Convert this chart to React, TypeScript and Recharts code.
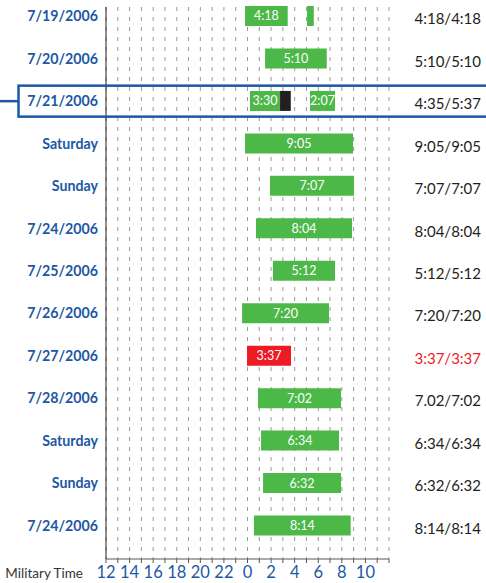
import React from 'react';
import { BarChart, Bar, XAxis, YAxis, CartesianGrid, Cell, LabelList } from 'recharts';

// rows of the time sheet, top to bottom
const rows = ['7/19/2006', '7/20/2006', '7/21/2006', 'Saturday', 'Sunday', '7/24/2006', '7/25/2006', '7/26/2006', '7/27/2006', '7/28/2006', 'Saturday', 'Sunday', '7/24/2006'];

// hours counted from 12:00 noon (0 = noon, 12 = midnight, 24 = next noon)
const shiftStart = [11.79, 13.49, 12.21, 11.79, 13.91, 12.72, 14.16, 11.54, 11.96, 12.89, 13.15, 13.32, 12.55];
const shiftEnd = [15.41, 18.72, 14.76, 20.95, 21.03, 20.87, 19.42, 18.91, 15.69, 19.93, 19.76, 19.93, 20.75];
const breakEnd = [15.41, 18.72, 15.67, 20.95, 21.03, 20.87, 19.42, 18.91, 15.69, 19.93, 19.76, 19.93, 20.75];
const secondStart = [17.05, null, 17.3, null, null, null, null, null, null, null, null, null, null];
const secondEnd = [17.62, null, 19.42, null, null, null, null, null, null, null, null, null, null];

const firstLabels = ['4:18', '5:10', '3:30', '9:05', '7:07', '8:04', '5:12', '7:20', '3:37', '7:02', '6:34', '6:32', '8:14'];
const secondLabels = ['', '', '2:07', '', '', '', '', '', '', '', '', '', ''];
const totals = ['4:18/4:18', '5:10/5:10', '4:35/5:37', '9:05/9:05', '7:07/7:07', '8:04/8:04', '5:12/5:12', '7:20/7:20', '3:37/3:37', '7.02/7:02', '6:34/6:34', '6:32/6:32', '8:14/8:14'];
const flagged = [false, false, false, false, false, false, false, false, true, false, false, false, false];
const highlighted = 2;

const hourTicks = Array.from({ length: 25 }, (_, i) => i);

const BLUE = '#1c58a5';
const GREEN = '#4cb848';
const RED = '#ed1c24';
const DARK = '#231f20';
const FONT = 'Lato, "Open Sans", sans-serif';

const data = rows.map((name, i) => {
    const s2 = secondStart[i];
    const e2 = secondEnd[i];
    return {
        idx: i,
        name,
        lead: shiftStart[i],
        work: shiftEnd[i] - shiftStart[i],
        pause: breakEnd[i] - shiftEnd[i],
        gap: s2 != null ? s2 - breakEnd[i] : 0,
        work2: s2 != null && e2 != null ? e2 - s2 : 0,
        labelA: firstLabels[i],
        labelB: secondLabels[i],
    };
});

const DateTick = ({ x, y, payload }: any) => {
    const i = payload.value;
    return (
        <g>
            {i === highlighted && (
                <g>
                    <line x1={0} y1={y} x2={18.5} y2={y} stroke={BLUE} strokeWidth={2.5} />
                    <rect x={18.5} y={y - 15.5} width={490} height={31} fill="none" stroke={BLUE} strokeWidth={2.5} />
                </g>
            )}
            <text x={x} y={y} dy={5} textAnchor="end" fill={BLUE} fontFamily={FONT} fontWeight={700} fontSize={14.2}>
                {rows[i]}
            </text>
        </g>
    );
};

const TotalTick = ({ x, y, payload }: any) => {
    const i = payload.value;
    return (
        <text x={x + 92} y={y} dy={8} textAnchor="end" fill={flagged[i] ? RED : DARK} fontFamily={FONT} fontSize={15}>
            {totals[i]}
        </text>
    );
};

const HourTick = ({ x, y, payload }: any) => {
    const v = payload.value;
    if (v % 2 !== 0 || v >= 24) return null;
    return (
        <text x={x} y={y} dy={13} textAnchor="middle" fill={BLUE} fontFamily={FONT} fontSize={16.5}>
            {(v + 12) % 24}
        </text>
    );
};

const MilitaryLabel = ({ viewBox }: any) => (
    <text x={viewBox.x - 23} y={viewBox.y + 19} textAnchor="end" fill="#333" fontFamily={FONT} fontSize={13.5}>
        Military Time
    </text>
);

export default function App() {
    return (
        <div style={{ position: 'absolute', left: 0, top: 0, width: 486, height: 583 }}>
            <BarChart
                width={486}
                height={583}
                data={data}
                layout="vertical"
                barSize={20}
                margin={{ top: 7, right: 0, left: 0, bottom: 0 }}
            >
                <CartesianGrid horizontal={false} stroke="#9a9a9a" strokeDasharray="4 6" />
                <XAxis
                    type="number"
                    domain={[0, 24]}
                    ticks={hourTicks}
                    interval={0}
                    height={24}
                    tickSize={4}
                    tickMargin={2}
                    stroke="#555"
                    tick={<HourTick />}
                    label={<MilitaryLabel />}
                />
                <YAxis
                    yAxisId="left"
                    type="category"
                    dataKey="idx"
                    width={106}
                    padding={{ top: -12, bottom: 12 }}
                    tickSize={0}
                    tickMargin={8}
                    interval={0}
                    stroke={DARK}
                    tick={<DateTick />}
                />
                <YAxis
                    yAxisId="right"
                    orientation="right"
                    type="category"
                    dataKey="idx"
                    width={97}
                    padding={{ top: -12, bottom: 12 }}
                    tickSize={0}
                    tickMargin={0}
                    interval={0}
                    axisLine={false}
                    tick={<TotalTick />}
                />
                <Bar yAxisId="left" dataKey="lead" stackId="day" fill="transparent" isAnimationActive={false} />
                <Bar yAxisId="left" dataKey="work" stackId="day" isAnimationActive={false}>
                    {data.map((d, i) => (
                        <Cell key={i} fill={flagged[i] ? RED : GREEN} />
                    ))}
                    <LabelList dataKey="labelA" position="center" fill="#fff" fontFamily={FONT} fontSize={12.5} />
                </Bar>
                <Bar yAxisId="left" dataKey="pause" stackId="day" fill={DARK} isAnimationActive={false} />
                <Bar yAxisId="left" dataKey="gap" stackId="day" fill="transparent" isAnimationActive={false} />
                <Bar yAxisId="left" dataKey="work2" stackId="day" fill={GREEN} isAnimationActive={false}>
                    <LabelList dataKey="labelB" position="center" fill="#fff" fontFamily={FONT} fontSize={12.5} />
                </Bar>
            </BarChart>
        </div>
    );
}
